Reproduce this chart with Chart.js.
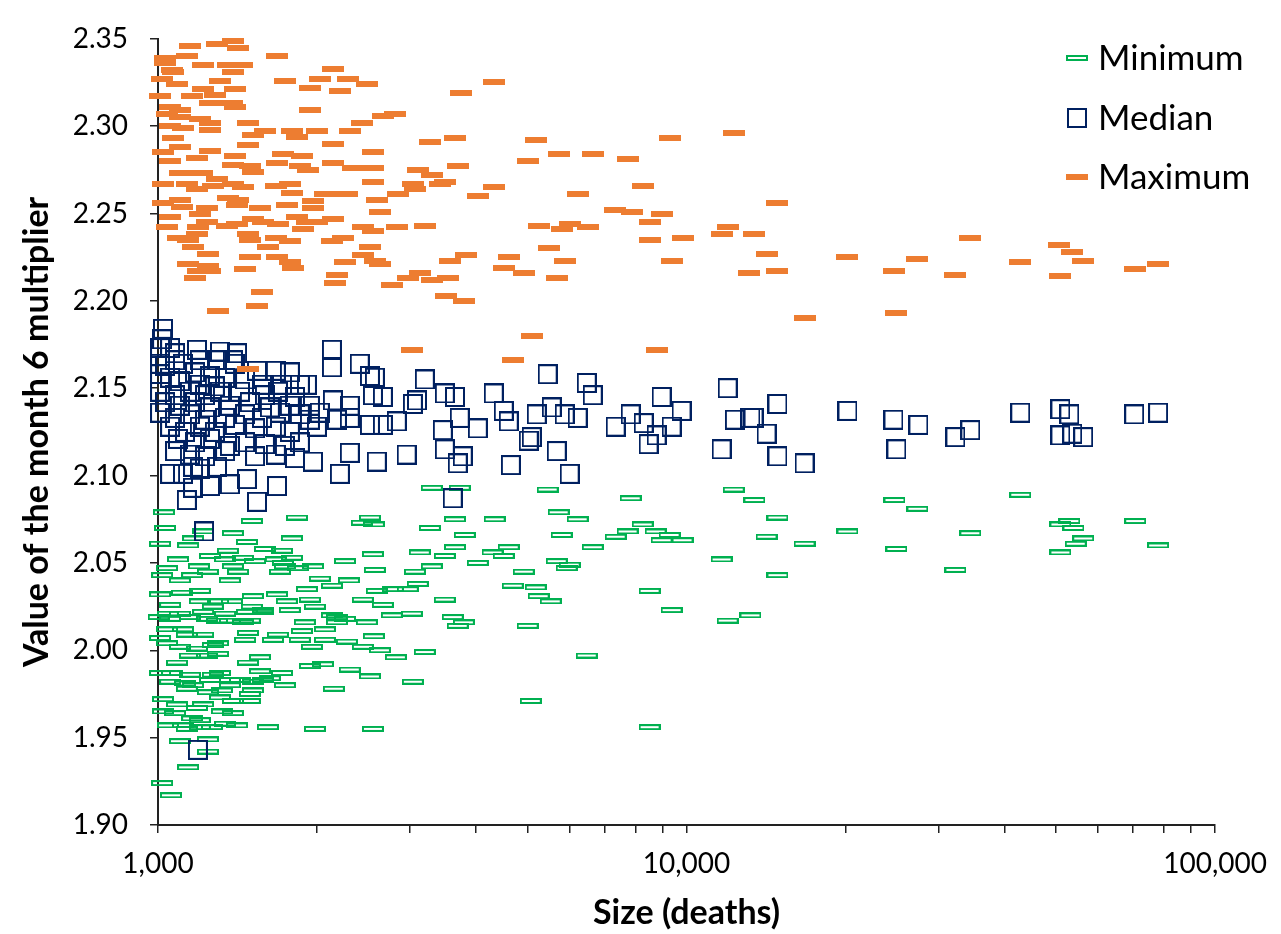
<!DOCTYPE html>
<html>
<head>
<meta charset="utf-8">
<title>Month 6 multiplier by size</title>
<script src="https://cdn.jsdelivr.net/npm/chart.js@4.4.1/dist/chart.umd.min.js"></script>
<style>
  html, body { margin: 0; padding: 0; background: #fff; }
  #wrap { width: 1281px; height: 934px; }
</style>
</head>
<body>
<div id="wrap"><canvas id="multiplierChart" width="1281" height="934"></canvas></div>
<script>
// legend order
var seriesNames = ['Minimum', 'Median', 'Maximum'];

// [size (deaths), value of the month 6 multiplier]
var minimumPoints = [
    [1026,2.079],[1505,2.074],[1832,2.076],[2517,2.076],[2430,2.073],[2561,2.072],[3268,2.070],[1031,2.070],[1217,2.068],[1386,2.067],
    [1792,2.064],[1165,2.064],[1009,2.061],[1140,2.060],[1473,2.062],[1593,2.058],[1716,2.057],[1356,2.057],[1254,2.054],[1091,2.052],
    [1339,2.052],[1448,2.053],[1526,2.051],[1671,2.052],[1792,2.053],[2258,2.051],[2550,2.055],[3128,2.056],[1040,2.047],[1195,2.048],
    [1386,2.048],[1723,2.050],[1964,2.048],[1839,2.047],[1738,2.048],[3296,2.048],[1018,2.043],[1160,2.043],[1243,2.045],[1417,2.045],
    [1100,2.040],[1368,2.040],[1701,2.045],[2572,2.046],[3062,2.045],[2024,2.041],[2133,2.037],[2297,2.040],[1913,2.035],[2594,2.034],
    [2782,2.035],[2969,2.035],[3101,2.038],[1009,2.032],[1110,2.033],[1200,2.034],[1512,2.031],[1679,2.032],[1938,2.029],[2441,2.029],
    [2663,2.026],[1054,2.026],[1200,2.028],[1299,2.028],[1380,2.028],[1270,2.025],[1505,2.025],[1578,2.023],[1753,2.028],[1776,2.023],
    [1981,2.025],[1044,2.021],[1100,2.021],[1149,2.019],[1217,2.022],[1339,2.021],[1473,2.022],[1578,2.022],[1003,2.019],[1054,2.018],
    [1238,2.018],[1368,2.017],[1448,2.016],[1492,2.017],[1293,2.017],[2133,2.020],[2180,2.019],[2258,2.018],[2180,2.016],[1896,2.016],
    [2484,2.016],[2770,2.020],[3022,2.021],[1040,2.012],[1115,2.012],[1134,2.009],[1217,2.009],[1480,2.010],[1686,2.009],[1872,2.011],
    [2069,2.012],[1009,2.007],[1040,2.004],[1100,2.002],[1185,2.001],[1270,2.003],[1299,2.004],[1461,2.006],[1650,2.006],[1855,2.006],
    [1955,2.002],[2069,2.006],[2277,2.005],[2441,2.002],[2561,2.008],[2629,2.000],[2818,1.996],[3197,1.999],[1149,1.997],[1238,1.997],
    [1299,1.998],[1086,1.993],[1559,1.996],[1480,1.993],[1938,1.991],[2051,1.992],[2306,1.989],[2517,1.985],[3035,1.982],[1009,1.987],
    [1063,1.987],[1149,1.986],[1270,1.986],[1310,1.987],[1559,1.988],[1716,1.987],[1628,1.984],[1054,1.982],[1125,1.981],[1254,1.983],
    [1368,1.983],[1429,1.983],[1512,1.982],[1578,1.983],[1738,1.980],[1134,1.978],[1165,1.980],[1243,1.976],[1321,1.977],[1368,1.980],
    [1512,1.977],[1492,1.975],[2151,1.978],[1022,1.972],[1086,1.969],[1185,1.967],[1217,1.969],[1310,1.973],[1386,1.971],[1492,1.971],
    [1022,1.965],[1077,1.964],[1321,1.965],[1386,1.964],[1160,1.961],[1200,1.960],[1339,1.958],[1411,1.957],[1044,1.957],[1115,1.957],
    [1134,1.955],[1200,1.956],[1265,1.956],[1614,1.956],[1981,1.955],[2550,1.955],[1100,1.948],[1243,1.949],[1243,1.942],[1140,1.933],
    [1018,1.924],[1058,1.917],
    [3296,2.093],[3723,2.093],[5461,2.092],[7838,2.087],[12280,2.092],[13440,2.086],[24740,2.086],[27340,2.081],[42800,2.089],[3646,2.075],
    [4335,2.075],[5729,2.079],[6223,2.075],[8259,2.072],[14860,2.076],[53000,2.074],[50970,2.072],[53950,2.070],[70600,2.074],[3806,2.066],
    [5804,2.066],[7735,2.068],[7343,2.065],[8738,2.068],[9288,2.066],[8970,2.063],[9826,2.063],[14170,2.065],[16720,2.061],[20160,2.068],
    [34430,2.067],[56300,2.064],[54490,2.061],[50970,2.056],[78000,2.060],[24950,2.058],[3646,2.059],[4608,2.059],[4295,2.056],[4509,2.054],
    [3488,2.054],[6645,2.059],[4027,2.050],[5680,2.051],[6010,2.049],[5932,2.047],[4920,2.045],[11650,2.052],[14860,2.043],[32260,2.046],
    [4690,2.037],[5183,2.036],[5251,2.031],[5534,2.028],[3488,2.029],[8514,2.034],[9370,2.023],[3611,2.019],[3790,2.016],[3690,2.014],
    [5005,2.014],[11960,2.017],[13210,2.020],[6473,1.997],[5073,1.971],[8514,1.956]
];

var medianPoints = [
    [1022,2.184],[1018,2.178],[1009,2.173],[1054,2.173],[1077,2.170],[1185,2.172],[1310,2.171],[1411,2.170],[1386,2.166],[1077,2.166],
    [1115,2.164],[1200,2.166],[1293,2.166],[1398,2.164],[1009,2.164],[1031,2.163],[1539,2.160],[1671,2.160],[1776,2.159],[1009,2.158],
    [1054,2.156],[1175,2.159],[1254,2.157],[1339,2.156],[1461,2.155],[1100,2.154],[1200,2.152],[1281,2.151],[1573,2.152],[1716,2.152],
    [1855,2.152],[1913,2.152],[1009,2.148],[1077,2.146],[1149,2.148],[1227,2.146],[1310,2.148],[1429,2.148],[1593,2.146],[1686,2.148],
    [1816,2.145],[1031,2.142],[1100,2.140],[1175,2.142],[1254,2.139],[1368,2.140],[1492,2.142],[1628,2.139],[1776,2.140],[1938,2.140],
    [1009,2.136],[1077,2.133],[1149,2.135],[1227,2.132],[1339,2.133],[1461,2.135],[1573,2.133],[1701,2.136],[1855,2.135],[2024,2.136],
    [1054,2.128],[1125,2.125],[1200,2.128],[1281,2.125],[1398,2.129],[1526,2.127],[1671,2.128],[1776,2.125],[1998,2.128],[1938,2.132],
    [1091,2.121],[1175,2.119],[1254,2.121],[1368,2.117],[1461,2.119],[1593,2.118],[1738,2.117],[1855,2.119],[2180,2.132],[2306,2.133],
    [1077,2.114],[1149,2.112],[1227,2.111],[1339,2.114],[1526,2.111],[1671,2.112],[1816,2.110],[1964,2.108],[2208,2.101],[1115,2.101],
    [1200,2.104],[1293,2.105],[1054,2.101],[1165,2.105],[1368,2.095],[1473,2.098],[1254,2.094],[1165,2.093],[1134,2.086],[1539,2.085],
    [1679,2.094],[1222,2.068],[1190,1.943],[2517,2.129],[2663,2.129],[2830,2.131],[2594,2.108],[2954,2.112],[2306,2.113],[2142,2.143],
    [2306,2.140],[2550,2.146],[2663,2.145],[3090,2.143],[3035,2.141],[3197,2.155],[3458,2.126],[2133,2.172],[2133,2.162],[2408,2.164],
    [2517,2.157],[2572,2.156],
    [5461,2.158],[6473,2.153],[6645,2.146],[3488,2.147],[3646,2.145],[4317,2.147],[4509,2.137],[3723,2.133],[4027,2.127],[4608,2.131],
    [5206,2.135],[5094,2.122],[5558,2.139],[5880,2.135],[6223,2.133],[7343,2.128],[7838,2.135],[8296,2.130],[8970,2.145],[9370,2.128],
    [9784,2.137],[8776,2.123],[8477,2.118],[11960,2.150],[12340,2.132],[13210,2.133],[13390,2.133],[14170,2.124],[14860,2.141],[11650,2.115],
    [14860,2.111],[16720,2.107],[20160,2.137],[24630,2.132],[27460,2.129],[24950,2.115],[32260,2.122],[34430,2.126],[42800,2.136],[50970,2.138],
    [53000,2.135],[50970,2.123],[53680,2.124],[56300,2.122],[70300,2.135],[78000,2.136],[3488,2.115],[3690,2.107],[3772,2.111],[4651,2.106],
    [6010,2.101],[5028,2.120],[5680,2.114],[3611,2.087]
];

var maximumPoints = [
    [1386,2.349],[1149,2.346],[1293,2.347],[1417,2.345],[1031,2.339],[1134,2.340],[1679,2.340],[1031,2.336],[1217,2.335],[1356,2.335],
    [1442,2.335],[1062,2.332],[1067,2.331],[1386,2.331],[2142,2.333],[1018,2.327],[1086,2.324],[1310,2.326],[1738,2.326],[2024,2.327],
    [2287,2.327],[2484,2.324],[1217,2.321],[1398,2.321],[1938,2.322],[2208,2.320],[1009,2.317],[1161,2.317],[1281,2.318],[1254,2.313],
    [1380,2.313],[1398,2.311],[1938,2.309],[2663,2.306],[2806,2.307],[1054,2.311],[1100,2.309],[1040,2.307],[1100,2.305],[1200,2.304],
    [1254,2.302],[1054,2.300],[1115,2.299],[1254,2.298],[1480,2.302],[2430,2.302],[1512,2.295],[1593,2.297],[1792,2.297],[1998,2.297],
    [1832,2.294],[2306,2.297],[1067,2.293],[1480,2.289],[2142,2.290],[3268,2.291],[1100,2.288],[1254,2.286],[1022,2.285],[1054,2.280],
    [1185,2.282],[1398,2.283],[1723,2.284],[1872,2.283],[2550,2.285],[1100,2.273],[1211,2.273],[1386,2.278],[1492,2.277],[1512,2.274],
    [1679,2.279],[1855,2.277],[1921,2.275],[2142,2.279],[2337,2.276],[2550,2.276],[3101,2.275],[3296,2.272],[1022,2.267],[1134,2.267],
    [1185,2.264],[1270,2.266],[1293,2.270],[1386,2.267],[1448,2.265],[1671,2.266],[1776,2.267],[1792,2.262],[2550,2.268],[3035,2.267],
    [3062,2.264],[3413,2.267],[1022,2.256],[1100,2.258],[1110,2.254],[1356,2.259],[1417,2.258],[1411,2.255],[1559,2.253],[1753,2.255],
    [1964,2.257],[2069,2.261],[2277,2.261],[1964,2.253],[2594,2.258],[2843,2.261],[1054,2.248],[1200,2.250],[1238,2.253],[2629,2.251],
    [1040,2.242],[1190,2.242],[1238,2.245],[1350,2.243],[1411,2.244],[1512,2.247],[1578,2.245],[1686,2.244],[1832,2.248],[1913,2.245],
    [1998,2.245],[2142,2.247],[1879,2.241],[2441,2.242],[2550,2.240],[2830,2.242],[3197,2.243],[1091,2.236],[1185,2.238],[1140,2.235],
    [1480,2.238],[1492,2.235],[1671,2.236],[1776,2.234],[2133,2.234],[2238,2.236],[2517,2.231],[1165,2.231],[1243,2.227],[1614,2.231],
    [1492,2.225],[1679,2.225],[1776,2.222],[1800,2.219],[2258,2.222],[2441,2.226],[2572,2.223],[2629,2.221],[1140,2.221],[1243,2.220],
    [1190,2.217],[1254,2.217],[1174,2.213],[1461,2.218],[2180,2.215],[2161,2.210],[3128,2.216],[2969,2.213],[3296,2.212],[2770,2.209],
    [1573,2.205],[1539,2.197],[1299,2.194],[3503,2.203],[3564,2.223],
    [4317,2.325],[3739,2.319],[3646,2.293],[5183,2.292],[9288,2.293],[12280,2.296],[5005,2.280],[5729,2.284],[6645,2.284],[7735,2.281],
    [3690,2.277],[3488,2.268],[4317,2.265],[4027,2.260],[6223,2.261],[8259,2.266],[14860,2.256],[7311,2.252],[7872,2.251],[8970,2.250],
    [8514,2.245],[5251,2.243],[5800,2.241],[6010,2.244],[6500,2.242],[11960,2.242],[11650,2.238],[13440,2.238],[8514,2.235],[9826,2.236],
    [34430,2.236],[50730,2.232],[53680,2.228],[56300,2.223],[3822,2.226],[4608,2.225],[5485,2.230],[5880,2.223],[9370,2.223],[14170,2.227],
    [20160,2.225],[27340,2.224],[42800,2.222],[4509,2.219],[4920,2.216],[5680,2.213],[3534,2.213],[13150,2.216],[14860,2.217],[24740,2.217],
    [32260,2.215],[50970,2.214],[70600,2.218],[78000,2.221],[3790,2.200],[16720,2.190],[24950,2.193],[5094,2.180],[4690,2.166],[8776,2.172],
    [1480,2.161],[3022,2.172]
];

var xTickValues = [1000, 2000, 3000, 4000, 5000, 6000, 7000, 8000, 9000,
                   10000, 20000, 30000, 40000, 50000, 60000, 70000, 80000, 90000, 100000];
var xLabelled = [1000, 10000, 100000];
var yTickValues = [1.90, 1.95, 2.00, 2.05, 2.10, 2.15, 2.20, 2.25, 2.30, 2.35];

// small canvas markers, Chart.js draws them centred on each point
function makeMarker(w, h, fill, stroke, lw) {
    var c = document.createElement('canvas');
    c.width = w;
    c.height = h;
    var g = c.getContext('2d');
    if (fill) {
        g.fillStyle = fill;
        g.fillRect(0, 0, w, h);
    }
    if (stroke) {
        g.strokeStyle = stroke;
        g.lineWidth = lw;
        g.strokeRect(lw / 2, lw / 2, w - lw, h - lw);
    }
    return c;
}

var markers = [
    makeMarker(22, 6, null, '#00B050', 2),   // Minimum
    makeMarker(20, 20, null, '#002060', 2),  // Median
    makeMarker(22, 6, '#ED7D31', null, 0)    // Maximum
];
var colors = ['#00B050', '#002060', '#ED7D31'];
var pointSets = [minimumPoints, medianPoints, maximumPoints];

// legend sits inside the plot, top right
var legendBox = {
    id: 'legendBox',
    afterDraw: function(chart) {
        var ctx = chart.ctx;
        ctx.save();
        ctx.font = '35px Lato';
        ctx.fillStyle = '#000';
        ctx.textBaseline = 'middle';
        ctx.textAlign = 'left';
        chart.data.datasets.forEach(function(ds, i) {
            var y = 58 + i * 59.5;
            var m = ds.pointStyle;
            ctx.drawImage(m, Math.round(1077 - m.width / 2), Math.round(y - m.height / 2));
            ctx.fillText(ds.label, 1098, y + 1);
        });
        ctx.restore();
    }
};

function draw() {
    var ctx = document.getElementById('multiplierChart').getContext('2d');

    var datasets = seriesNames.map(function(name, i) {
        return {
            label: name,
            data: pointSets[i].map(function(p) { return { x: p[0], y: p[1] }; }),
            pointStyle: markers[i],
            pointRadius: 10,
            borderColor: colors[i],
            backgroundColor: colors[i],
            showLine: false,
            clip: false,
            order: 3 - i // Maximum on top
        };
    });

    new Chart(ctx, {
        type: 'scatter',
        data: { datasets: datasets },
        plugins: [legendBox],
        options: {
            responsive: false,
            animation: false,
            devicePixelRatio: 1,
            layout: { padding: { top: 25, right: 65, left: 0, bottom: 0 } },
            plugins: {
                legend: { display: false },
                tooltip: { enabled: false }
            },
            scales: {
                x: {
                    type: 'logarithmic',
                    min: 1000,
                    max: 100000,
                    afterBuildTicks: function(scale) {
                        scale.ticks = xTickValues.map(function(v) { return { value: v }; });
                    },
                    afterFit: function(scale) { scale.height = 109; },
                    ticks: {
                        autoSkip: false,
                        maxRotation: 0,
                        padding: 14,
                        color: '#000',
                        font: { family: 'Lato', size: 28 },
                        callback: function(v) {
                            return xLabelled.indexOf(v) >= 0 ? v.toLocaleString('en-US') : '';
                        }
                    },
                    grid: { drawOnChartArea: false, tickLength: 8, color: '#222', lineWidth: 1.5 },
                    border: { color: '#222', width: 2 },
                    title: {
                        display: true,
                        text: 'Size (deaths)',
                        color: '#000',
                        font: { family: 'Lato', size: 34, weight: 'bold' },
                        padding: { top: 0, bottom: 1 }
                    }
                },
                y: {
                    min: 1.9,
                    max: 2.35,
                    afterBuildTicks: function(scale) {
                        scale.ticks = yTickValues.map(function(v) { return { value: v }; });
                    },
                    afterFit: function(scale) { scale.width = 158; },
                    ticks: {
                        autoSkip: false,
                        padding: 22,
                        color: '#000',
                        font: { family: 'Lato', size: 28 },
                        callback: function(v) { return Number(v).toFixed(2); }
                    },
                    grid: { drawOnChartArea: false, tickLength: 8, color: '#222', lineWidth: 1.5 },
                    border: { color: '#222', width: 2 },
                    title: {
                        display: true,
                        text: 'Value of the month 6 multiplier',
                        color: '#000',
                        font: { family: 'Lato', size: 34, weight: 'bold' },
                        padding: { top: 17, bottom: 0 }
                    }
                }
            }
        }
    });
}

if (document.fonts && document.fonts.load) {
    Promise.all([
        document.fonts.load('28px Lato'),
        document.fonts.load('bold 34px Lato'),
        document.fonts.load('35px Lato')
    ]).then(draw, draw);
} else {
    draw();
}
</script>
</body>
</html>
